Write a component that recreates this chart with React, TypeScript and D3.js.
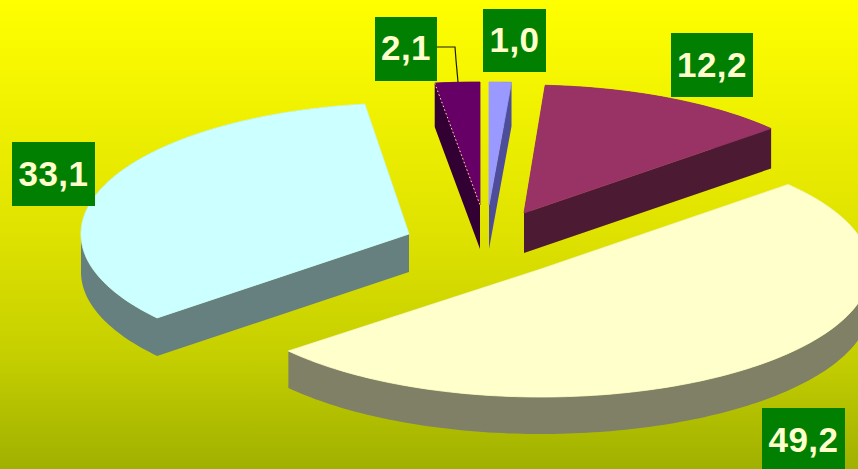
import React from "react";
import * as d3 from "d3";

const WIDTH = 858;
const HEIGHT = 469;

// Data (in drawing order of the pie, clockwise from 12 o'clock)
const categories = ["a", "b", "c", "d", "e"];
const values = [1.0, 12.2, 49.2, 33.1, 2.1];
const valueLabels = ["1,0", "12,2", "49,2", "33,1", "2,1"];

// Appearance per slice, same order as the data
const topColors = ["#9999ff", "#993366", "#ffffcc", "#ccffff", "#660066"];
const wallColors = ["#4d4d99", "#4d1a33", "#808066", "#668080", "#330033"];
const centers: [number, number][] = [[489, 205], [524, 213], [541, 269], [409, 234], [480, 205]];
const radii: [number, number][] = [[350, 123], [329, 128], [329, 128], [328, 131], [336, 123]];
const depths = [44, 40, 37, 38, 44];
const labelBoxes: [number, number, number, number][] = [
  [483, 9, 63, 63],
  [671, 33, 82, 64],
  [762, 408, 83, 61],
  [12, 142, 83, 64],
  [375, 17, 62, 64],
];
const labelBaselines = [52, 77, 452, 186, 60];
const paintOrder = [3, 4, 0, 1, 2];

const bgStops: [number, string][] = [
  [0, "#ffff00"],
  [0.5, "#dfe200"],
  [0.75, "#c6d000"],
  [1, "#a0b000"],
];

type Pt = [number, number];

function sliceOutline(i: number, start: number, end: number): Pt[] {
  const [cx, cy] = centers[i];
  const [rx, ry] = radii[i];
  const x = d3.scaleLinear().domain([-1, 1]).range([cx - rx, cx + rx]);
  const y = d3.scaleLinear().domain([-1, 1]).range([cy - ry, cy + ry]);
  const n = Math.max(4, Math.ceil((end - start) / 0.02));
  const pts: Pt[] = [[x(0), y(0)]];
  for (let k = 0; k <= n; k++) {
    const [px, py] = d3.pointRadial(start + ((end - start) * k) / n, 1);
    pts.push([x(px), y(py)]);
  }
  return pts;
}

// One quad per outline edge, pushed down by the slice's depth. All quads get
// the same winding so that the nonzero fill rule keeps their union solid.
function wallPath(top: Pt[], depth: number, line: (p: Pt[]) => string | null): string {
  return top
    .map((p, k) => {
      const q = top[(k + 1) % top.length];
      const quad: Pt[] = [p, q, [q[0], q[1] + depth], [p[0], p[1] + depth]];
      if (d3.polygonArea(quad) < 0) quad.reverse();
      return line(quad) ?? "";
    })
    .join("");
}

export default function App() {
  const arcs = d3.pie<number>().sort(null).startAngle(0).endAngle(2 * Math.PI)(values);
  const line = d3.line<Pt>().curve(d3.curveLinearClosed);
  const dotted = sliceOutline(4, arcs[4].startAngle, arcs[4].endAngle);

  return (
    <svg
      width={WIDTH}
      height={HEIGHT}
      viewBox={`0 0 ${WIDTH} ${HEIGHT}`}
      style={{ position: "absolute", left: 0, top: 0, display: "block" }}
      fontFamily="'Liberation Sans', Arial, sans-serif"
    >
      <defs>
        <linearGradient id="bg" x1="0" y1="0" x2="0" y2="1">
          {bgStops.map(([o, c]) => (
            <stop key={o} offset={o} stopColor={c} />
          ))}
        </linearGradient>
      </defs>
      <rect x={0} y={0} width={WIDTH} height={HEIGHT} fill="url(#bg)" />

      {paintOrder.map((i) => {
        const a = arcs[i];
        const top = sliceOutline(i, a.startAngle, a.endAngle);
        return (
          <g key={categories[i]}>
            <path d={wallPath(top, depths[i], line)} fill={wallColors[i]} />
            <path d={line(top) ?? ""} fill={topColors[i]} stroke={topColors[i]} strokeWidth={0.8} />
          </g>
        );
      })}

      {/* dotted light edge on the small dark slice */}
      <line
        x1={dotted[1][0]}
        y1={dotted[1][1]}
        x2={dotted[0][0]}
        y2={dotted[0][1]}
        stroke="#ffe9a0"
        strokeWidth={1}
        strokeDasharray="1.5 2.5"
      />

      {/* leader line of the 2,1 label */}
      <path d="M437,47H455L456,60L458,82" fill="none" stroke="#1a1a10" strokeWidth={1.2} />

      {valueLabels.map((t, i) => {
        const [x, y, w, h] = labelBoxes[i];
        return (
          <g key={t}>
            <rect x={x} y={y} width={w} height={h} fill="#007f00" />
            <text
              x={x + w / 2}
              y={labelBaselines[i]}
              textAnchor="middle"
              fontSize={35}
              fontWeight={700}
              letterSpacing={0.5}
              fill="#ffffcc"
            >
              {t}
            </text>
          </g>
        );
      })}
    </svg>
  );
}
